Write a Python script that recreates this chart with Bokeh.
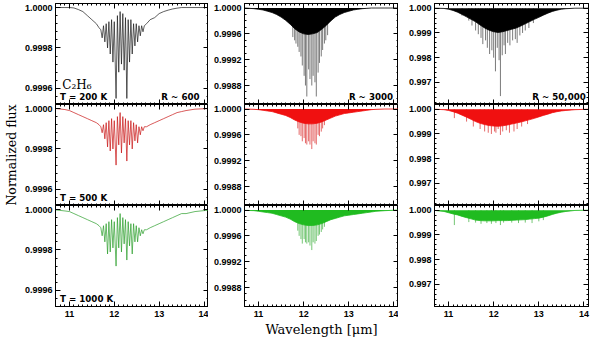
from bokeh.plotting import figure
from bokeh.layouts import gridplot
from bokeh.models import Range1d, LinearAxis, SingleIntervalTicker, PrintfTickFormatter, Label
from bokeh.embed import file_html
from bokeh.resources import INLINE

# ---------------- data ----------------
# Column 1: R ~ 600 spectra (wavelength in micron, normalized flux)
WL_R600 = [10.70, 10.90, 11.00, 11.10, 11.20, 11.30, 11.40, 11.50, 11.60, 11.66, 11.70,
           11.73, 11.76, 11.79, 11.82, 11.85, 11.88, 11.91, 11.94, 11.97, 12.00,
           12.04, 12.07, 12.10, 12.13, 12.16, 12.19, 12.22, 12.25, 12.28, 12.31,
           12.34, 12.37, 12.40, 12.43, 12.46, 12.49, 12.52, 12.55, 12.58, 12.61,
           12.64, 12.67,
           12.72, 12.80, 12.90, 13.00, 13.10, 13.20, 13.30, 13.40, 13.50, 13.60, 13.80, 14.10]
FLUX_R600_200K = [1.0, 1.0, 1.0, 0.999998, 0.99999, 0.99998, 0.99996, 0.99994, 0.99992, 0.99990, 0.99989,
                  0.99985, 0.99991, 0.99983, 0.99992, 0.99980, 0.99993, 0.99977, 0.99994, 0.99973, 0.99993,
                  0.99955, 0.99996, 0.99968, 0.99998, 0.99972, 0.99997, 0.99969, 0.99995, 0.99955, 0.99994,
                  0.99973, 0.99994, 0.99977, 0.99992, 0.99981, 0.99992, 0.99983, 0.99991, 0.99986, 0.99991,
                  0.99988, 0.99991,
                  0.99992, 0.99994, 0.99995, 0.99997, 0.99998, 0.999987, 0.999993, 0.999997, 1.0, 1.0, 1.0, 1.0]
FLUX_R600_500K = [1.0, 0.999995, 0.99999, 0.99998, 0.99997, 0.99996, 0.99995, 0.99994, 0.99993, 0.99992, 0.99991,
                  0.99988, 0.99992, 0.99985, 0.99993, 0.99981, 0.99994, 0.99979, 0.99995, 0.99980, 0.99994,
                  0.99972, 0.99996, 0.99982, 0.99998, 0.99978, 0.99996, 0.99983, 0.99995, 0.99974, 0.99994,
                  0.99982, 0.99994, 0.99980, 0.99993, 0.99984, 0.99992, 0.99983, 0.99991, 0.99987, 0.99991,
                  0.99989, 0.99991,
                  0.99991, 0.99992, 0.99993, 0.99994, 0.99995, 0.99996, 0.99997, 0.99998, 0.999985, 0.99999, 0.999997, 1.0]
FLUX_R600_1000K = [0.999998, 0.999993, 0.99999, 0.99998, 0.99997, 0.99996, 0.99995, 0.99994, 0.99993, 0.99992, 0.99991,
                   0.99987, 0.99992, 0.99984, 0.99993, 0.99978, 0.99994, 0.99979, 0.99995, 0.99981, 0.99994,
                   0.99972, 0.99996, 0.99981, 0.99998, 0.99979, 0.99996, 0.99983, 0.99995, 0.99975, 0.99994,
                   0.99982, 0.99993, 0.99978, 0.99993, 0.99984, 0.99992, 0.99984, 0.99991, 0.99987, 0.99990,
                   0.99988, 0.99990,
                   0.99990, 0.99991, 0.99992, 0.99993, 0.99994, 0.99995, 0.99996, 0.99997, 0.99998, 0.99998, 0.99999, 0.999997]

# Columns 2-3: lower edge of the dense line forest + individual deep lines
WL_ENV = [10.70, 10.90, 11.00, 11.10, 11.20, 11.30, 11.40, 11.50, 11.60, 11.70,
          11.80, 11.90, 12.00, 12.10, 12.20, 12.30, 12.40, 12.50, 12.60, 12.70,
          12.80, 12.90, 13.00, 13.10, 13.20, 13.30, 13.40, 13.50, 13.60, 13.80, 14.10]
CONTINUUM = 1.0

ENV_R3000_200K = [1.0, 0.99999, 0.99998, 0.99997, 0.99995, 0.99993, 0.99990, 0.99986, 0.99981, 0.99975,
                  0.99968, 0.99963, 0.99960, 0.99959, 0.99960, 0.99962, 0.99967, 0.99973, 0.99980, 0.99986,
                  0.99990, 0.99993, 0.99995, 0.99997, 0.99998, 0.99999, 0.999995, 1.0, 1.0, 1.0, 1.0]
LINE_WL_R3000_200K = [11.76, 11.80, 11.83, 11.87, 11.90, 11.94, 11.97, 12.01, 12.04, 12.07, 12.11, 12.14,
                      12.18, 12.21, 12.25, 12.28, 12.32, 12.35, 12.39, 12.42, 12.46, 12.49, 12.53]
LINE_D_R3000_200K = [0.99955, 0.99950, 0.99945, 0.99940, 0.99932, 0.99925, 0.99911, 0.99895, 0.99880, 0.99863,
                     0.99905, 0.99890, 0.99880, 0.99895, 0.99885, 0.99863, 0.99900, 0.99915, 0.99925, 0.99935,
                     0.99945, 0.99950, 0.99958]

ENV_R3000_500K = [1.0, 0.999995, 0.99999, 0.99998, 0.99997, 0.99996, 0.99994, 0.99992, 0.99990, 0.99987,
                  0.99983, 0.99980, 0.99978, 0.99977, 0.99977, 0.99978, 0.99980, 0.99983, 0.99986, 0.99989,
                  0.99991, 0.99993, 0.99994, 0.99995, 0.99996, 0.99997, 0.99998, 0.99999, 0.999995, 1.0, 1.0]
LINE_WL_R3000_500K = [11.87, 11.90, 11.94, 11.97, 12.01, 12.04, 12.07, 12.11, 12.14, 12.18, 12.21, 12.25,
                      12.28, 12.32, 12.35, 12.39, 12.42, 12.46]
LINE_D_R3000_500K = [0.99970, 0.99960, 0.99958, 0.99950, 0.99955, 0.99947, 0.99945, 0.99950, 0.99945, 0.99938,
                     0.99950, 0.99947, 0.99945, 0.99960, 0.99958, 0.99965, 0.99970, 0.99975]

ENV_R3000_1000K = [0.999995, 0.99999, 0.99998, 0.99997, 0.99996, 0.99995, 0.99993, 0.99991, 0.99989, 0.99986,
                   0.99982, 0.99979, 0.99977, 0.99976, 0.99976, 0.99977, 0.99979, 0.99982, 0.99985, 0.99987,
                   0.99989, 0.99991, 0.99992, 0.99993, 0.99994, 0.99995, 0.99996, 0.99997, 0.99998, 0.99999, 1.0]
LINE_WL_R3000_1000K = [11.87, 11.90, 11.94, 11.97, 12.01, 12.04, 12.07, 12.11, 12.14, 12.18, 12.21, 12.25,
                       12.28, 12.32, 12.35, 12.39, 12.42, 12.46]
LINE_D_R3000_1000K = [0.99968, 0.99960, 0.99955, 0.99948, 0.99955, 0.99950, 0.99948, 0.99950, 0.99945, 0.99938,
                      0.99950, 0.99948, 0.99952, 0.99960, 0.99962, 0.99966, 0.99970, 0.99974]

ENV_R50000_200K = [1.0, 0.99999, 0.99996, 0.99991, 0.99984, 0.99975, 0.99965, 0.99955, 0.99945, 0.99932,
                   0.99920, 0.99911, 0.99905, 0.99902, 0.99905, 0.99910, 0.99915, 0.99920, 0.99928, 0.99937,
                   0.99946, 0.99955, 0.99963, 0.99972, 0.99980, 0.99987, 0.99992, 0.99996, 0.99998, 1.0, 1.0]
LINE_WL_R50000_200K = [11.30, 11.45, 11.52, 11.60, 11.66, 11.72, 11.76, 11.82, 11.86, 11.91, 11.96, 12.00,
                       12.04, 12.08, 12.12, 12.15, 12.19, 12.23, 12.26, 12.31, 12.36, 12.42, 12.48, 12.52,
                       12.58, 12.64, 12.70, 12.78, 12.88]
LINE_D_R50000_200K = [0.99970, 0.99950, 0.99930, 0.99910, 0.99895, 0.99880, 0.99855, 0.99870, 0.99840, 0.99815,
                      0.99830, 0.99800, 0.99745, 0.99840, 0.99790, 0.99645, 0.99810, 0.99850, 0.99815, 0.99860,
                      0.99850, 0.99870, 0.99875, 0.99860, 0.99890, 0.99900, 0.99910, 0.99920, 0.99940]

ENV_R50000_500K = [1.0, 0.99998, 0.99995, 0.99990, 0.99984, 0.99976, 0.99968, 0.99959, 0.99950, 0.99943,
                   0.99938, 0.99934, 0.99932, 0.99931, 0.99933, 0.99936, 0.99940, 0.99944, 0.99948, 0.99953,
                   0.99958, 0.99963, 0.99969, 0.99975, 0.99980, 0.99986, 0.99990, 0.99993, 0.99995, 0.99998, 1.0]
LINE_WL_R50000_500K = [11.13, 11.40, 11.55, 11.70, 11.80, 11.88, 11.95, 12.02, 12.05, 12.10, 12.15, 12.20,
                       12.28, 12.35, 12.45, 12.52, 12.62, 12.75]
LINE_D_R50000_500K = [0.99964, 0.99950, 0.99930, 0.99920, 0.99910, 0.99905, 0.99900, 0.99910, 0.99905, 0.99920,
                      0.99896, 0.99910, 0.99915, 0.99905, 0.99910, 0.99920, 0.99930, 0.99940]

ENV_R50000_1000K = [0.99999, 0.99995, 0.99990, 0.99985, 0.99981, 0.99975, 0.99970, 0.99965, 0.99960, 0.99958,
                    0.99957, 0.99957, 0.99957, 0.99958, 0.99958, 0.99958, 0.99959, 0.99960, 0.99961, 0.99962,
                    0.99964, 0.99966, 0.99968, 0.99972, 0.99977, 0.99983, 0.99988, 0.99992, 0.99995, 0.99999, 1.0]
LINE_WL_R50000_1000K = [11.13, 11.45, 11.60, 11.72, 11.85, 11.95, 12.05, 12.15, 12.22, 12.40, 12.55, 12.70,
                        12.85, 13.00, 13.10]
LINE_D_R50000_1000K = [0.99940, 0.99952, 0.99950, 0.99945, 0.99948, 0.99945, 0.99948, 0.99940, 0.99950, 0.99950,
                       0.99948, 0.99950, 0.99948, 0.99955, 0.99960]

TEMPS = ["T = 200 K", "T = 500 K", "T = 1000 K"]
RESOLUTIONS = ["R ~ 600", "R ~ 3000", "R ~ 50,000"]
MOLECULE = "C\u2082H\u2086"

R600_FLUX = [FLUX_R600_200K, FLUX_R600_500K, FLUX_R600_1000K]
ENVS = [[ENV_R3000_200K, ENV_R3000_500K, ENV_R3000_1000K],
        [ENV_R50000_200K, ENV_R50000_500K, ENV_R50000_1000K]]
LINES = [[(LINE_WL_R3000_200K, LINE_D_R3000_200K), (LINE_WL_R3000_500K, LINE_D_R3000_500K),
          (LINE_WL_R3000_1000K, LINE_D_R3000_1000K)],
         [(LINE_WL_R50000_200K, LINE_D_R50000_200K), (LINE_WL_R50000_500K, LINE_D_R50000_500K),
          (LINE_WL_R50000_1000K, LINE_D_R50000_1000K)]]

# ---------------- styling / layout ----------------
X_START, X_END = 10.69, 14.10
Y_RANGES = [(0.99952, 1.00002), (0.998506, 1.00007), (0.99611, 1.00019)]
Y_INTERVALS = [0.0002, 0.0004, 0.001]
Y_MINOR = [5, 4, 5]
Y_FMT = ["%.4f", "%.4f", "%.3f"]

COL_W = [208, 190, 192]
LEFT_B = [54, 36, 36]
RIGHT_B = [0, 0, 2]
ROW_H = [104, 101, 134]
TOP_B = [3, 0, 0]
BOT_B = [0, 0, 33]

LINE_COL1 = ["#1a1a1a", "#c81414", "#2a9e2a"]
FILL_COL = ["#000000", "#f01010", "#20bb20"]
DEEP_COL = ["#3a3a3a", "#d82020", "#33aa33"]

TICK_FONT = "Liberation Sans"
ANNOT_FONT = "DejaVu Sans"


def style_axis(ax, interval, minor, fmt=None, labels=True):
    ax.ticker = SingleIntervalTicker(interval=interval, num_minor_ticks=minor)
    ax.major_tick_in = 5
    ax.major_tick_out = 0
    ax.minor_tick_in = 2
    ax.minor_tick_out = 0
    ax.axis_line_color = "black"
    ax.major_tick_line_color = "black"
    ax.minor_tick_line_color = "black"
    if labels:
        if fmt:
            ax.formatter = PrintfTickFormatter(format=fmt)
        ax.major_label_text_font = TICK_FONT
        ax.major_label_text_font_style = "bold"
        ax.major_label_text_font_size = "9px"
        ax.major_label_text_color = "black"
        ax.major_label_standoff = 3
    else:
        ax.major_label_text_font_size = "0px"
        ax.major_label_text_color = None
        ax.major_label_standoff = 0


def make_panel(r, c):
    p = figure(width=COL_W[c], height=ROW_H[r],
               x_range=Range1d(X_START, X_END), y_range=Range1d(*Y_RANGES[c]),
               output_backend="svg", toolbar_location=None,
               min_border_left=LEFT_B[c], min_border_right=RIGHT_B[c],
               min_border_top=TOP_B[r], min_border_bottom=BOT_B[r])
    p.grid.visible = False
    p.outline_line_color = "black"
    p.outline_line_width = 1
    p.background_fill_color = "white"
    p.border_fill_color = "white"

    bottom = p.below[0]
    left = p.left[0]
    bottom_labels = (r == 2)
    style_axis(bottom, 1, 10, labels=bottom_labels)
    if bottom_labels:
        bottom.major_label_standoff = 4
    style_axis(left, Y_INTERVALS[c], Y_MINOR[c], fmt=Y_FMT[c], labels=True)

    top = LinearAxis()
    style_axis(top, 1, 10, labels=False)
    p.add_layout(top, "above")
    right = LinearAxis()
    style_axis(right, Y_INTERVALS[c], Y_MINOR[c], labels=False)
    p.add_layout(right, "right")

    if c == 0:
        p.line(WL_R600, R600_FLUX[r], line_color=LINE_COL1[r], line_width=0.7)
    else:
        env = ENVS[c - 1][r]
        lw, ld = LINES[c - 1][r]
        p.segment(x0=lw, y0=[CONTINUUM] * len(lw), x1=lw, y1=ld,
                  line_color=DEEP_COL[r], line_width=0.8, line_alpha=0.85)
        p.varea(x=WL_ENV, y1=env, y2=[CONTINUUM] * len(WL_ENV), fill_color=FILL_COL[r])
        p.line(WL_ENV, env, line_color=FILL_COL[r], line_width=0.8)

    if c == 0 and r == 1:
        left.axis_label = "Normalized flux"
        left.axis_label_text_font = "DejaVu Serif"
        left.axis_label_text_font_style = "normal"
        left.axis_label_text_font_size = "12.5px"
        left.axis_label_text_color = "black"
        left.axis_label_standoff = 3
    if c == 1 and r == 2:
        bottom.axis_label = "Wavelength [\u03bcm]"
        bottom.axis_label_text_font = "DejaVu Serif"
        bottom.axis_label_text_font_style = "normal"
        bottom.axis_label_text_font_size = "13px"
        bottom.axis_label_text_color = "black"
        bottom.axis_label_standoff = 2

    ylo = Y_RANGES[c][0]
    yspan = Y_RANGES[c][1] - ylo
    base_y = ylo + 0.075 * yspan
    if c == 0:
        p.add_layout(Label(x=10.79, y=base_y, text=TEMPS[r], text_font=ANNOT_FONT,
                           text_font_style="bold", text_font_size="8.7px", text_color="black",
                           text_align="left", text_baseline="alphabetic"))
    if r == 0:
        rx = [13.90, 13.98, 14.04][c]
        p.add_layout(Label(x=rx, y=base_y, text=RESOLUTIONS[c], text_font=ANNOT_FONT,
                           text_font_style="bold", text_font_size="8.7px", text_color="black",
                           text_align="right", text_baseline="alphabetic"))
        if c == 0:
            p.add_layout(Label(x=10.84, y=ylo + 0.19 * yspan, text=MOLECULE,
                               text_font="DejaVu Serif", text_font_size="12px", text_color="black",
                               text_align="left", text_baseline="alphabetic"))
    return p


rows = [[make_panel(r, c) for c in range(3)] for r in range(3)]
grid = gridplot(rows, toolbar_location=None)

open("out.html", "w").write(file_html(grid, INLINE))
